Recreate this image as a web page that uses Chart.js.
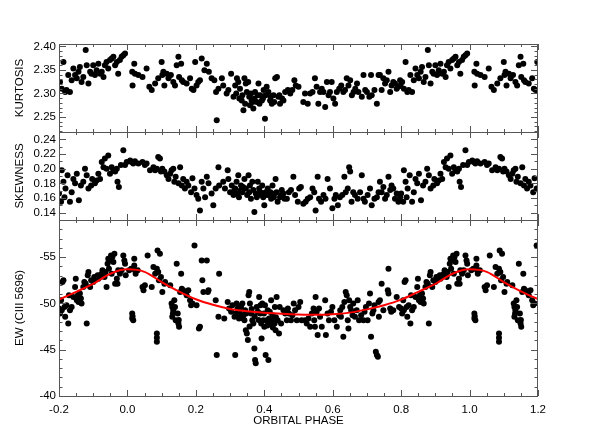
<!DOCTYPE html>
<html>
<head>
<meta charset="utf-8">
<title>Kurtosis, skewness and EW vs orbital phase</title>
<script src="https://cdn.jsdelivr.net/npm/chart.js@4/dist/chart.umd.min.js"></script>
<style>
  html, body { margin: 0; padding: 0; background: #fff; }
  #wrap { position: relative; width: 598px; height: 441px; }
  #wrap canvas { position: absolute; left: 0; top: 0; }
</style>
</head>
<body>
<div id="wrap">
  <canvas id="kurt" width="598" height="441"></canvas>
  <canvas id="skew" width="598" height="441"></canvas>
  <canvas id="ew" width="598" height="441"></canvas>
</div>
<script>
// phases are stored in [0,1); the plot repeats them over -0.2 .. 1.2

const phaseTicks = [-0.2, 0.0, 0.2, 0.4, 0.6, 0.8, 1.0, 1.2];
const kurtTicks = [2.25, 2.30, 2.35, 2.40];
const skewTicks = [0.14, 0.16, 0.18, 0.20, 0.22, 0.24];
const ewTicks = [-55, -50, -45, -40];

const kurtPhase = [
  0.014, 0.015, 0.020, 0.022, 0.032, 0.044, 0.056, 0.064, 0.071, 0.081,
  0.090, 0.100, 0.102, 0.105, 0.108, 0.115, 0.120, 0.127, 0.134, 0.139,
  0.144, 0.149, 0.151, 0.157, 0.159, 0.163, 0.173, 0.183, 0.188, 0.193,
  0.198, 0.202, 0.207, 0.212, 0.217, 0.225, 0.232, 0.238, 0.246, 0.254,
  0.259, 0.261, 0.266,
  0.276, 0.280, 0.290, 0.295, 0.303, 0.310, 0.315, 0.320, 0.324, 0.329,
  0.334, 0.339, 0.342, 0.346, 0.349, 0.353, 0.358, 0.363, 0.368, 0.373,
  0.378, 0.383, 0.388, 0.393, 0.398, 0.402, 0.407, 0.412, 0.417, 0.422,
  0.427, 0.432, 0.437, 0.441, 0.446, 0.456, 0.461, 0.469, 0.476, 0.482,
  0.488, 0.492, 0.500, 0.514, 0.519, 0.527, 0.534, 0.541, 0.548, 0.553,
  0.558, 0.563, 0.568, 0.573, 0.578, 0.583, 0.588, 0.592, 0.597, 0.602,
  0.607, 0.612, 0.619, 0.625, 0.631, 0.636, 0.641, 0.646, 0.651, 0.656,
  0.661, 0.666, 0.671, 0.675, 0.685, 0.690, 0.695, 0.700, 0.707, 0.712,
  0.714, 0.722, 0.729, 0.734,
  0.318, 0.327, 0.336, 0.344, 0.356, 0.361, 0.366, 0.371, 0.381, 0.386,
  0.396, 0.404, 0.419, 0.429, 0.444, 0.452,
  0.738, 0.743, 0.748, 0.753, 0.758, 0.763, 0.768, 0.772, 0.777, 0.782,
  0.787, 0.792, 0.797,
  0.798, 0.803, 0.808, 0.813, 0.818, 0.822, 0.827, 0.832, 0.837, 0.842,
  0.847, 0.852, 0.857, 0.861, 0.866, 0.871, 0.878, 0.881, 0.886, 0.891,
  0.895, 0.900, 0.905, 0.910, 0.915, 0.920, 0.925, 0.930, 0.934, 0.939,
  0.944, 0.949, 0.954, 0.959, 0.964, 0.969, 0.973, 0.978, 0.983, 0.988,
  0.993
];
const kurtValue = [
  2.346, 2.317, 2.363, 2.342, 2.339, 2.335, 2.353, 2.314, 2.307, 2.321,
  2.332, 2.367, 2.339, 2.346, 2.317, 2.342, 2.332, 2.339, 2.324, 2.317,
  2.360, 2.378, 2.335, 2.363, 2.328, 2.324, 2.321, 2.332, 2.310, 2.307,
  2.367, 2.317, 2.324, 2.328, 2.374, 2.349, 2.363, 2.346, 2.332, 2.328,
  2.303, 2.243, 2.310,
  2.332, 2.317, 2.300, 2.307, 2.342, 2.293, 2.317, 2.332, 2.324, 2.310,
  2.285, 2.264, 2.332, 2.321, 2.303, 2.324, 2.275, 2.285, 2.268, 2.303,
  2.282, 2.321, 2.296, 2.285, 2.307, 2.246, 2.314, 2.303, 2.285, 2.278,
  2.296, 2.332, 2.335, 2.293, 2.278, 2.285, 2.303, 2.307, 2.300, 2.307,
  2.328, 2.317, 2.314, 2.282, 2.300, 2.278, 2.300, 2.303, 2.332, 2.314,
  2.278, 2.303, 2.310, 2.303, 2.271, 2.324, 2.296, 2.303, 2.324, 2.289,
  2.278, 2.303, 2.310, 2.317, 2.303, 2.307, 2.332, 2.317, 2.328, 2.296,
  2.303, 2.310, 2.321, 2.303, 2.293, 2.339, 2.307, 2.303, 2.293, 2.339,
  2.296, 2.307, 2.278, 2.339,
  2.300, 2.289, 2.296, 2.278, 2.293, 2.300, 2.282, 2.289, 2.296, 2.278,
  2.289, 2.296, 2.293, 2.282, 2.296, 2.289,
  2.339, 2.307, 2.332, 2.321, 2.328, 2.346, 2.303, 2.317, 2.324, 2.321,
  2.310, 2.314, 2.328,
  2.317, 2.324, 2.310, 2.367, 2.303, 2.307, 2.339, 2.303, 2.328, 2.353,
  2.339, 2.332, 2.346, 2.356, 2.324, 2.335, 2.392, 2.360, 2.321, 2.346,
  2.342, 2.360, 2.339, 2.349, 2.363, 2.342, 2.346, 2.335, 2.360, 2.367,
  2.353, 2.371, 2.374, 2.378, 2.360, 2.367, 2.342, 2.371, 2.378, 2.381,
  2.385
];

const skewPhase = [
  0.008, 0.012, 0.017, 0.022, 0.032, 0.044, 0.051, 0.056, 0.066, 0.076,
  0.081, 0.086, 0.090, 0.095, 0.098, 0.102, 0.108, 0.115, 0.120, 0.125,
  0.129, 0.134, 0.137, 0.141, 0.149, 0.154, 0.159, 0.163, 0.168, 0.173,
  0.178, 0.186, 0.190, 0.196, 0.202, 0.207, 0.212, 0.217, 0.222, 0.227,
  0.232, 0.237, 0.246, 0.251, 0.258, 0.266, 0.268,
  0.280, 0.285, 0.293, 0.295, 0.300, 0.305, 0.310, 0.315, 0.319, 0.324,
  0.326, 0.332, 0.336, 0.342, 0.346, 0.354, 0.358, 0.361, 0.365, 0.371,
  0.375, 0.381, 0.385, 0.391, 0.394, 0.400, 0.404, 0.410, 0.414, 0.420,
  0.424, 0.430, 0.433, 0.439, 0.446, 0.451, 0.459, 0.466, 0.472, 0.478,
  0.485, 0.490, 0.498, 0.502, 0.507, 0.514, 0.521, 0.527, 0.534, 0.541,
  0.546, 0.550, 0.556, 0.560, 0.566, 0.573, 0.579, 0.585, 0.592, 0.599,
  0.605, 0.609, 0.615, 0.621, 0.628, 0.634, 0.638, 0.644, 0.648, 0.651,
  0.655, 0.660, 0.665, 0.673, 0.680, 0.685, 0.690, 0.694, 0.702, 0.709,
  0.714, 0.722, 0.729, 0.734,
  0.312, 0.322, 0.330, 0.338, 0.350, 0.356, 0.368, 0.378, 0.389, 0.397,
  0.408, 0.418, 0.428, 0.436, 0.449, 0.456,
  0.738, 0.743, 0.748, 0.753, 0.758, 0.763, 0.768, 0.772, 0.777, 0.782,
  0.787, 0.792, 0.797,
  0.800, 0.806, 0.808, 0.813, 0.816, 0.819, 0.825, 0.832, 0.837, 0.842,
  0.847, 0.852, 0.858, 0.864, 0.871, 0.876, 0.881, 0.886, 0.894, 0.897,
  0.905, 0.910, 0.915, 0.920, 0.925, 0.930, 0.934, 0.939, 0.944, 0.949,
  0.954, 0.959, 0.964, 0.969, 0.971, 0.975, 0.981, 0.988, 0.993, 0.998
];
const skewValue = [
  0.211, 0.209, 0.207, 0.210, 0.207, 0.209, 0.205, 0.207, 0.198, 0.202,
  0.198, 0.200, 0.216, 0.214, 0.196, 0.200, 0.196, 0.191, 0.186, 0.193,
  0.198, 0.200, 0.182, 0.189, 0.180, 0.202, 0.177, 0.186, 0.173, 0.182,
  0.177, 0.168, 0.187, 0.173, 0.164, 0.159, 0.143, 0.182, 0.173, 0.161,
  0.189, 0.180, 0.166, 0.150, 0.173, 0.202, 0.177,
  0.182, 0.173, 0.198, 0.186, 0.168, 0.177, 0.164, 0.173, 0.182, 0.191,
  0.161, 0.177, 0.168, 0.186, 0.173, 0.191, 0.177, 0.159, 0.182, 0.141,
  0.166, 0.182, 0.173, 0.164, 0.177, 0.150, 0.168, 0.173, 0.164, 0.159,
  0.177, 0.166, 0.186, 0.155, 0.161, 0.171, 0.159, 0.159, 0.168, 0.171,
  0.189, 0.164, 0.155, 0.173, 0.175, 0.152, 0.155, 0.159, 0.161, 0.173,
  0.168, 0.143, 0.189, 0.159, 0.155, 0.164, 0.159, 0.186, 0.173, 0.146,
  0.159, 0.164, 0.150, 0.161, 0.164, 0.189, 0.168, 0.173, 0.202, 0.196,
  0.155, 0.168, 0.164, 0.159, 0.168, 0.191, 0.159, 0.155, 0.164, 0.173,
  0.150, 0.159, 0.161, 0.168,
  0.170, 0.166, 0.170, 0.175, 0.164, 0.168, 0.171, 0.161, 0.168, 0.161,
  0.164, 0.168, 0.161, 0.168, 0.164, 0.166,
  0.182, 0.168, 0.175, 0.159, 0.164, 0.189, 0.171, 0.177, 0.173, 0.159,
  0.166, 0.155, 0.161,
  0.166, 0.155, 0.198, 0.182, 0.161, 0.173, 0.191, 0.155, 0.168, 0.186,
  0.180, 0.193, 0.157, 0.177, 0.182, 0.200, 0.191, 0.173, 0.177, 0.186,
  0.180, 0.184, 0.193, 0.186, 0.209, 0.202, 0.214, 0.200, 0.218, 0.193,
  0.202, 0.198, 0.196, 0.200, 0.182, 0.175, 0.205, 0.225, 0.205, 0.209
];

const ewPhase = [
  0.005, 0.011, 0.014, 0.014, 0.017, 0.020, 0.020, 0.022, 0.024, 0.030,
  0.044, 0.047, 0.051, 0.059, 0.071, 0.076, 0.081, 0.086, 0.088, 0.090,
  0.092, 0.095, 0.098, 0.102, 0.108, 0.110, 0.086, 0.086, 0.125, 0.129,
  0.131, 0.134, 0.137, 0.139, 0.141, 0.144, 0.147, 0.149, 0.151, 0.154,
  0.157, 0.159, 0.163, 0.168, 0.173, 0.178, 0.183, 0.186, 0.190, 0.196,
  0.202, 0.209, 0.212, 0.217, 0.219, 0.222, 0.232, 0.235, 0.237, 0.258,
  0.261, 0.266, 0.268, 0.086, 0.015, 0.133, 0.150, 0.131,
  0.283, 0.293, 0.297, 0.303, 0.307, 0.313, 0.315, 0.319, 0.322, 0.326,
  0.329, 0.332, 0.336, 0.339, 0.342, 0.344, 0.346, 0.349, 0.352, 0.354,
  0.356, 0.358, 0.361, 0.365, 0.368, 0.371, 0.373, 0.375, 0.378, 0.381,
  0.385, 0.388, 0.391, 0.392, 0.394, 0.397, 0.400, 0.402, 0.404, 0.407,
  0.410, 0.412, 0.414, 0.417, 0.420, 0.424, 0.427, 0.430, 0.431, 0.433,
  0.436, 0.439, 0.443, 0.449, 0.456, 0.461, 0.466, 0.469, 0.472, 0.478,
  0.482, 0.486, 0.490, 0.495, 0.500, 0.505, 0.509, 0.519, 0.524, 0.529,
  0.534, 0.539, 0.544, 0.546, 0.548, 0.550, 0.553, 0.556, 0.560, 0.563,
  0.568, 0.578, 0.580, 0.585, 0.589, 0.595, 0.599, 0.605, 0.612, 0.619,
  0.622, 0.624, 0.628, 0.631, 0.634, 0.638, 0.641, 0.644, 0.646, 0.648,
  0.651, 0.654, 0.658, 0.660, 0.665, 0.670, 0.673, 0.677, 0.683, 0.690,
  0.693, 0.697, 0.702, 0.706, 0.709, 0.712, 0.716, 0.719, 0.722, 0.726,
  0.729, 0.732, 0.734, 0.735,
  0.318, 0.328, 0.337, 0.347, 0.357, 0.363, 0.372, 0.383, 0.389, 0.399,
  0.409, 0.416, 0.425, 0.434, 0.445,
  0.738, 0.743, 0.748, 0.761, 0.763, 0.763, 0.768, 0.771, 0.777, 0.787,
  0.794,
  0.800, 0.803, 0.806, 0.808, 0.810, 0.813, 0.816, 0.818, 0.822, 0.827,
  0.829, 0.832, 0.837, 0.842, 0.847, 0.849, 0.852, 0.855, 0.857, 0.861,
  0.864, 0.866, 0.871, 0.874, 0.878, 0.881, 0.884, 0.886, 0.891, 0.894,
  0.900, 0.903, 0.907, 0.913, 0.915, 0.920, 0.925, 0.927, 0.933, 0.936,
  0.939, 0.942, 0.944, 0.946, 0.949, 0.952, 0.954, 0.956, 0.959, 0.962,
  0.964, 0.969, 0.971, 0.973, 0.978, 0.983, 0.988, 0.991, 0.993, 0.995
];
const ewValue = [
  -53.57, -53.75, -48.91, -48.37, -48.19, -54.82, -54.10, -53.57, -53.21, -53.57,
  -51.77, -51.42, -51.95, -55.18, -51.77, -53.92, -53.21, -53.75, -55.72, -53.39,
  -52.49, -55.36, -52.85, -51.24, -52.13, -52.31, -46.76, -45.86, -51.95, -49.98,
  -48.55, -49.27, -50.34, -49.62, -48.19, -54.28, -48.91, -47.83, -47.47, -51.24,
  -53.21, -51.59, -51.42, -51.24, -50.88, -51.42, -50.34, -49.80, -49.98, -56.25,
  -49.80, -47.29, -47.47, -54.64, -52.49, -51.24, -54.64, -51.24, -51.42, -50.34,
  -44.43, -48.55, -53.21, -46.30, -48.60, -48.90, -48.20, -49.60,
  -48.37, -50.16, -49.44, -49.09, -49.80, -48.55, -44.43, -49.98, -49.44, -48.37,
  -48.91, -49.62, -49.98, -48.73, -48.19, -49.27, -47.11, -46.76, -46.04, -50.88,
  -51.24, -49.98, -48.91, -48.19, -47.83, -45.14, -43.89, -43.53, -49.62, -49.09,
  -50.70, -48.91, -47.83, -46.22, -49.98, -48.19, -47.47, -49.80, -44.43, -48.19,
  -49.27, -43.89, -48.37, -47.83, -50.34, -48.73, -48.19, -47.83, -49.62, -47.11,
  -50.70, -48.19, -46.76, -47.83, -49.27, -48.91, -48.19, -49.44, -48.91, -48.19,
  -48.73, -49.98, -49.27, -48.19, -49.62, -50.16, -48.19, -48.19, -47.83, -48.37,
  -47.47, -48.91, -49.44, -48.19, -47.47, -50.70, -49.09, -46.58, -49.44, -48.55,
  -47.47, -50.34, -46.58, -48.91, -48.19, -49.09, -49.62, -48.19, -47.47, -48.73,
  -49.27, -48.55, -49.62, -46.40, -50.16, -51.24, -50.88, -48.19, -47.29, -50.34,
  -49.62, -49.27, -48.73, -49.98, -48.55, -49.27, -50.34, -48.19, -48.73, -48.19,
  -49.09, -49.62, -48.19, -49.98, -51.06, -46.40, -48.91, -49.27, -49.80, -44.79,
  -44.43, -44.25, -50.16, -48.55,
  -48.90, -49.70, -48.40, -48.90, -47.50, -49.40, -48.60, -48.20, -49.80, -48.90,
  -47.60, -49.10, -47.40, -48.50, -49.60,
  -50.34, -52.13, -49.27, -51.42, -51.06, -53.75, -49.44, -49.09, -49.27, -50.70,
  -49.62,
  -49.44, -48.91, -50.34, -49.27, -52.31, -52.49, -49.62, -48.55, -49.80, -47.83,
  -50.88, -49.27, -49.62, -50.70, -51.77, -52.67, -50.34, -50.88, -50.16, -51.06,
  -50.52, -49.98, -51.77, -52.31, -52.13, -47.83, -53.03, -53.39, -51.77, -52.49,
  -52.31, -52.85, -52.67, -53.03, -52.67, -53.03, -53.21, -53.57, -52.85, -53.39,
  -51.77, -54.28, -54.82, -53.75, -54.64, -55.18, -53.21, -55.00, -54.46, -55.36,
  -52.13, -52.67, -52.13, -53.57, -53.21, -53.57, -55.18, -54.64, -54.28, -53.03
];

// fitted curve (red)
const curvePhase = [
  -0.20, -0.15, -0.10, -0.05, 0.00, 0.05, 0.10, 0.15, 0.20, 0.25,
  0.30, 0.35, 0.40, 0.45, 0.50, 0.55, 0.60, 0.65, 0.70, 0.75,
  0.80, 0.85, 0.90, 0.95, 1.00, 1.05, 1.10, 1.15, 1.20
];
const curveEW = [
  -50.40, -51.25, -52.10, -53.20, -53.67, -53.40, -52.30, -51.30, -50.45, -49.85,
  -49.40, -49.15, -48.98, -48.88, -48.80, -48.76, -48.82, -49.00, -49.35, -49.80,
  -50.40, -51.25, -52.10, -53.20, -53.67, -53.40, -52.30, -51.30, -50.45
];

Chart.defaults.font.family = '"Liberation Sans", Arial, Helvetica, sans-serif';
Chart.defaults.font.size = 11.5;
Chart.defaults.color = '#000';

// repeat each phase one cycle either side, kept inside the plotted window
function fold(phase, value) {
  const pts = [];
  phase.forEach((p, i) => {
    [-1, 0, 1].forEach(k => {
      const x = p + k;
      if (x >= -0.2 && x <= 1.2) pts.push({x: x, y: value[i]});
    });
  });
  return pts;
}

// IDL-style box with inward major/minor ticks on all four sides
const frameTicks = {
  id: 'frameTicks',
  afterDraw(chart, args, opts) {
    const {ctx, chartArea: a, scales} = chart;
    const xs = scales.x, ys = scales.y;
    ctx.save();
    ctx.strokeStyle = '#555';
    ctx.lineWidth = 1;
    ctx.strokeRect(a.left + 0.5, a.top + 0.5, a.right - a.left - 1, a.bottom - a.top);
    ctx.beginPath();
    for (let i = 0; i <= 28; i++) {
      const px = Math.round(xs.getPixelForValue(-0.2 + i * 0.05)) + 0.5;
      const len = i % 4 === 0 ? 6 : 3;
      ctx.moveTo(px, a.bottom); ctx.lineTo(px, a.bottom - len);
      ctx.moveTo(px, a.top); ctx.lineTo(px, a.top + len);
    }
    const n0 = Math.ceil(ys.min / opts.minor - 1e-6), n1 = Math.floor(ys.max / opts.minor + 1e-6);
    for (let n = n0; n <= n1; n++) {
      const v = n * opts.minor;
      const r = v / opts.major;
      const len = Math.abs(r - Math.round(r)) < 1e-6 ? 7 : 3.5;
      const py = Math.round(ys.getPixelForValue(v)) + 0.5;
      ctx.moveTo(a.left, py); ctx.lineTo(a.left + len, py);
      ctx.moveTo(a.right, py); ctx.lineTo(a.right - len, py);
    }
    ctx.stroke();
    ctx.restore();
  }
};

const dots = pts => ({
  type: 'scatter', data: pts, order: 1, clip: 0,
  pointRadius: 3, pointBorderWidth: 0,
  pointBackgroundColor: '#000', backgroundColor: '#000', borderColor: '#000'
});

function panel(id, cfg) {
  const xAxis = cfg.showX ? {
    type: 'linear', min: -0.2, max: 1.2,
    grid: {display: false, drawTicks: false}, border: {display: false},
    afterBuildTicks: s => { s.ticks = phaseTicks.map(v => ({value: v})); },
    afterFit: s => { s.height = 45; },
    ticks: {padding: 7, maxRotation: 0, autoSkip: false, callback: v => v.toFixed(1)},
    title: {display: true, text: 'ORBITAL PHASE', padding: {top: 0, bottom: 13}}
  } : {type: 'linear', min: -0.2, max: 1.2, display: false};

  return new Chart(document.getElementById(id), {
    type: 'scatter',
    data: {datasets: cfg.datasets},
    options: {
      responsive: false,
      animation: false,
      events: [],
      layout: {padding: {left: 0, right: 60, top: cfg.top, bottom: cfg.bottom}},
      plugins: {
        legend: {display: false},
        tooltip: {enabled: false},
        frameTicks: {minor: cfg.minor, major: cfg.major}
      },
      scales: {
        x: xAxis,
        y: {
          type: 'linear', min: cfg.min, max: cfg.max, reverse: !!cfg.reverse,
          grid: {display: false, drawTicks: false}, border: {display: false},
          afterBuildTicks: s => { s.ticks = cfg.ticks.map(v => ({value: v})); },
          afterFit: s => { s.width = 59; },
          ticks: {padding: 3, autoSkip: false, callback: v => v.toFixed(cfg.digits)},
          title: {display: true, text: cfg.title, padding: {top: 13, bottom: 0}}
        }
      }
    },
    plugins: [frameTicks]
  });
}

panel('kurt', {
  datasets: [dots(fold(kurtPhase, kurtValue))],
  top: 44, bottom: 309, min: 2.218, max: 2.405,
  ticks: kurtTicks, digits: 2, minor: 0.01, major: 0.05, title: 'KURTOSIS'
});

panel('skew', {
  datasets: [dots(fold(skewPhase, skewValue))],
  top: 132, bottom: 221, min: 0.13, max: 0.25,
  ticks: skewTicks, digits: 2, minor: 0.01, major: 0.02, title: 'SKEWNESS'
});

panel('ew', {
  datasets: [
    {
      type: 'line', order: 0,
      data: curvePhase.map((x, i) => ({x: x, y: curveEW[i]})),
      borderColor: '#ff0000', borderWidth: 2, pointRadius: 0,
      cubicInterpolationMode: 'monotone', fill: false
    },
    dots(fold(ewPhase, ewValue))
  ],
  showX: true,
  top: 220, bottom: 0, min: -59, max: -40, reverse: true,
  ticks: ewTicks, digits: 0, minor: 1, major: 5, title: 'EW (CIII 5696)'
});
</script>
</body>
</html>
